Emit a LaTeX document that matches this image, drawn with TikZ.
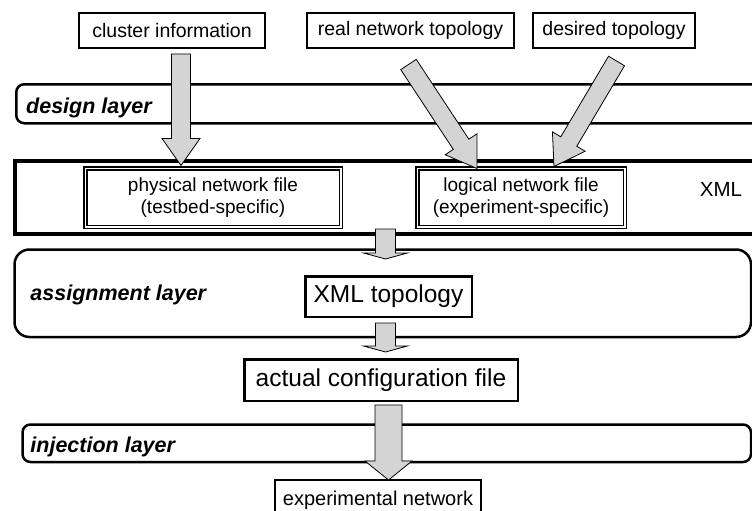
\documentclass[tikz,border=0pt]{standalone}
\usepackage{fontspec}
\setmainfont{Liberation Sans}
\usepackage{tikz}
\usetikzlibrary{positioning,calc}
\definecolor{arrowgray}{RGB}{212,212,212}

% block arrow: tail, tip, half shaft width, half head width, head length
\newcommand{\fatarrow}[5]{%
  \draw[fat arrow] let \p1=($(#2)-(#1)$), \n1={atan2(\y1,\x1)}, \p2=($(#2)!#5!(#1)$) in
    ($(#1)+(\n1+90:#3)$) -- ($(\p2)+(\n1+90:#3)$) -- ($(\p2)+(\n1+90:#4)$) -- (#2)
    -- ($(\p2)+(\n1-90:#4)$) -- ($(\p2)+(\n1-90:#3)$) -- ($(#1)+(\n1-90:#3)$) -- cycle;}

\begin{document}
\begin{tikzpicture}[x=1pt, y=-1pt,
    info box/.style={draw, line width=2pt, minimum height=35pt, inner sep=0pt, font=\fontsize{19.5}{22}\selectfont},
    file box/.style={draw, double, line width=1.5pt, double distance=1.5pt, minimum height=58.5pt, inner sep=0pt, align=center, font=\fontsize{19}{22}\selectfont},
    big box/.style={draw, line width=2.5pt, inner sep=0pt, font=\fontsize{24.5}{28}\selectfont},
    layer band/.style={draw, line width=2.5pt, anchor=north west, inner sep=0pt},
    layer label/.style={anchor=base west, inner sep=0pt, font=\fontsize{21.5}{24}\selectfont\bfseries\itshape},
    fat arrow/.style={draw=black, fill=arrowgray, line width=0.8pt, line join=miter}]
    \useasboundingbox (0,0) rectangle (752,511);
    \clip (0,0) rectangle (752,511);

    % layers
    \node[layer band, rounded corners=8pt, minimum width=755pt, minimum height=39pt] (design) at (15,83) {};
    \node[layer band, line width=4pt, minimum width=760pt, minimum height=73pt] (xmlbox) at (12.5,159) {};
    \node[layer band, rounded corners=15pt, minimum width=736.5pt, minimum height=87.5pt] (assign) at (13.25,248.25) {};
    \node[layer band, rounded corners=8pt, minimum width=728.5pt, minimum height=37.5pt] (inject) at (21.25,423.25) {};

    \node[layer label] at ($(design.north west)+(11,30)$) {design layer};
    \node[layer label] at ($(assign.north west)+(17,52)$) {assignment layer};
    \node[layer label] at ($(inject.north west)+(9,29)$) {injection layer};
    \node[font=\fontsize{20.5}{24}\selectfont, inner sep=0pt] (xmltext) at (721,189.5) {XML};

    % inputs
    \node[info box, minimum width=186pt] (cluster) at (172,30.5) {cluster information};
    \node[info box, minimum width=207pt] (realnet) at (410.5,30.5) {real network topology};
    \node[info box, minimum width=162pt] (desired) at (614,30.5) {desired topology};

    % files
    \node[file box, minimum width=255.5pt] (physical) at (213,197.5) {physical network file\\(testbed-specific)};
    \node[file box, minimum width=207.5pt] (logical) at (521,197.5) {logical network file\\(experiment-specific)};
    \node[big box, minimum width=166.5pt, minimum height=40.5pt] (xmltopo) at (388.5,296.5) {XML topology};
    \node[big box, minimum width=273.5pt, minimum height=41.5pt] (config) at (381,380) {actual configuration file};
    \node[draw, line width=2pt, inner sep=0pt, minimum width=206pt, minimum height=40pt, font=\fontsize{20}{24}\selectfont] (expnet) at (378,500) {experimental network};

    % arrow ends
    \coordinate (cl tail) at ($(cluster.south)+(9,5)$);
    \coordinate (cl tip) at ($(cl tail |- physical.north)+(0,-2)$);
    \coordinate (rn tail) at ($(realnet.south)+(-2,15.5)$);
    \coordinate (rn tip) at ($(logical.north)+(-44,1)$);
    \coordinate (dt tail) at ($(desired.south)+(2.5,12)$);
    \coordinate (dt tip) at ($(logical.north)+(33,-1)$);
    \coordinate (x1 tail) at ($(xmlbox.south -| xmltopo.north)+(-3,-7)$);
    \coordinate (x1 tip) at ($(xmltopo.north)+(-3,-16)$);
    \coordinate (x2 tail) at ($(xmltopo.south)+(-3,5)$);
    \coordinate (x2 tip) at ($(x2 tail |- config.north)+(0,-6)$);
    \coordinate (cf tail) at ($(config.south)+(7.5,3)$);
    \coordinate (cf tip) at ($(cf tail |- expnet.north)+(0,1)$);

    \fatarrow{cl tail}{cl tip}{9.5pt}{19pt}{27pt}
    \fatarrow{rn tail}{rn tip}{9.3pt}{19pt}{29pt}
    \fatarrow{dt tail}{dt tip}{9.3pt}{19pt}{29pt}
    \fatarrow{x1 tail}{x1 tip}{10pt}{22pt}{6pt}
    \fatarrow{x2 tail}{x2 tip}{10pt}{22pt}{6pt}
    \fatarrow{cf tail}{cf tip}{13.5pt}{23.5pt}{19pt}

\end{tikzpicture}
\end{document}
